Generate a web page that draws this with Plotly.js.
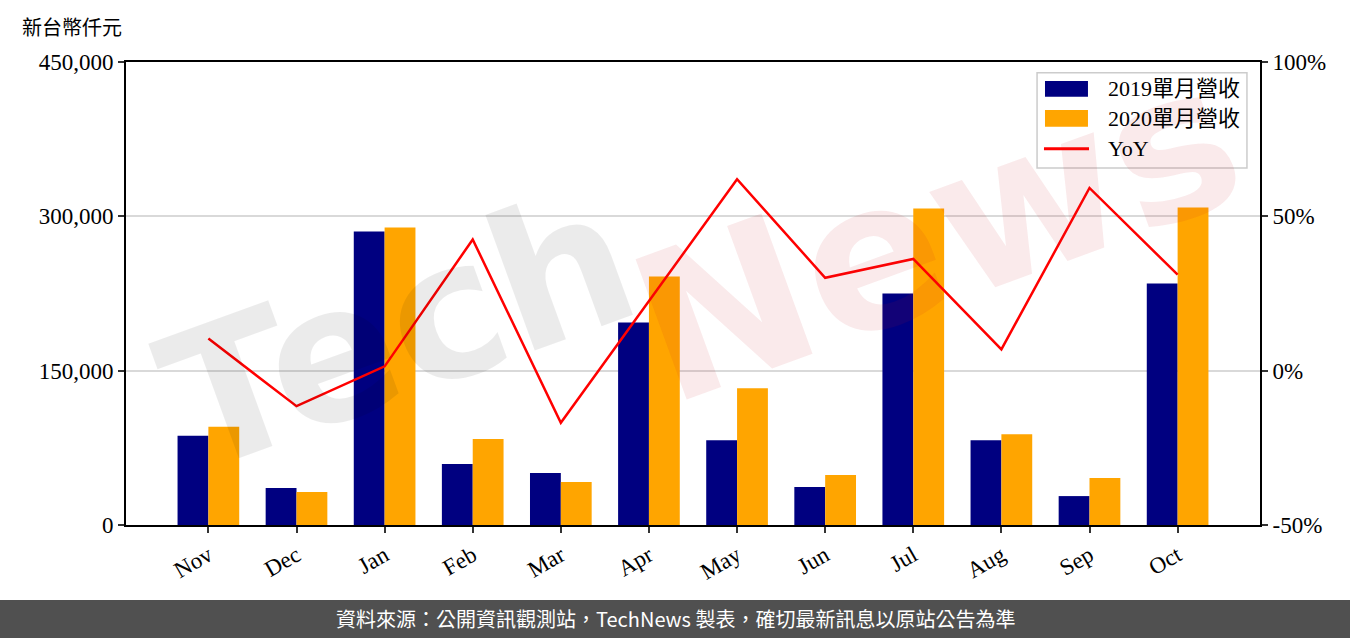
<!DOCTYPE html>
<html>
<head>
<meta charset="utf-8">
<script src="https://cdn.plot.ly/plotly-3.0.1.min.js"></script>
<style>html,body{margin:0;padding:0;background:#fff;}#chart{width:1350px;height:638px;}</style>
</head>
<body>
<div id="chart"></div>
<script>
const months = ['Nov','Dec','Jan','Feb','Mar','Apr','May','Jun','Jul','Aug','Sep','Oct'];
const rev2019 = [86800, 36000, 285200, 59300, 50500, 196900, 82450, 36900, 225000, 82450, 28100, 234700];
const rev2020 = [95600, 32100, 289100, 83600, 41800, 241500, 132900, 48500, 307500, 88300, 45600, 308500];
const yoy = [10.4, -11.5, 1.4, 42.5, -16.9, 22.7, 62.0, 30.1, 36.2, 6.9, 59.2, 31.1];
const leftTicks = [0, 150000, 300000, 450000];
const leftTickText = ['0', '150,000', '300,000', '450,000'];
const rightTicks = [-50, 0, 50, 100];
const rightTickText = ['-50%', '0%', '50%', '100%'];
const seriesNames = ['2019單月營收', '2020單月營收', 'YoY'];
const colors = ['#000080', '#FFA500', '#FF0000'];

const serif = '"Liberation Serif", "Noto Sans CJK TC", serif';
const sans = '"Noto Sans CJK TC", "Noto Sans", sans-serif';

const traces = [
  {type:'bar', name:seriesNames[0], x:months, y:rev2019, marker:{color:colors[0]}, yaxis:'y'},
  {type:'bar', name:seriesNames[1], x:months, y:rev2020, marker:{color:colors[1]}, yaxis:'y'},
  {type:'scatter', mode:'lines', name:seriesNames[2], x:months, y:yoy, yaxis:'y2',
   line:{color:colors[2], width:2.5}}
];

// custom legend (paper coordinates)
const legShapes = [
  {type:'rect', xref:'paper', yref:'paper', x0:0.8034, x1:0.9885, y0:0.7711, y1:0.9769,
   fillcolor:'rgba(255,255,255,0.8)', line:{color:'#cccccc', width:1.5}, layer:'above'},
  {type:'rect', xref:'paper', yref:'paper', x0:0.8104, x1:0.8483, y0:0.9251, y1:0.959,
   fillcolor:colors[0], line:{width:0}, layer:'above'},
  {type:'rect', xref:'paper', yref:'paper', x0:0.8104, x1:0.8483, y0:0.8603, y1:0.8963,
   fillcolor:colors[1], line:{width:0}, layer:'above'},
  {type:'line', xref:'paper', yref:'paper', x0:0.8095, x1:0.8492, y0:0.8127, y1:0.8127,
   line:{color:colors[2], width:3}, layer:'above'}
];
const legY = [0.9417, 0.879, 0.8121];
const legAnn = seriesNames.map((n, i) => ({
  xref:'paper', yref:'paper', x:0.8642, y:legY[i], xanchor:'left', yanchor:'middle',
  text:n, showarrow:false, font:{family:serif, size:22, color:'#000'}
}));

const layout = {
  width:1350, height:638,
  margin:{l:126, r:90, t:62, b:113},
  paper_bgcolor:'#ffffff', plot_bgcolor:'#ffffff',
  font:{family:serif, size:22, color:'#000'},
  barmode:'group', bargap:0.3, bargroupgap:0,
  showlegend:false,
  xaxis:{type:'category', range:[-0.935, 11.935], tickangle:-30,
    ticks:'outside', ticklen:6, tickwidth:2, tickcolor:'#333',
    showline:true, linecolor:'#000', linewidth:2, mirror:true,
    showgrid:false, tickfont:{family:serif, size:23, color:'#000'}},
  yaxis:{range:[0,450000], tickvals:leftTicks, ticktext:leftTickText, tickmode:'array',
    ticks:'outside', ticklen:6, tickwidth:2, tickcolor:'#333',
    showline:true, linecolor:'#000', linewidth:2, mirror:true,
    showgrid:true, gridcolor:'#d9d9d9', gridwidth:2, zeroline:false,
    tickfont:{family:serif, size:23, color:'#000'}},
  yaxis2:{overlaying:'y', side:'right', range:[-50,100], tickvals:rightTicks, ticktext:rightTickText,
    tickmode:'array', ticks:'outside', ticklen:6, tickwidth:2, tickcolor:'#333',
    showline:true, linecolor:'#000', linewidth:2, showgrid:false, zeroline:false,
    tickfont:{family:serif, size:23, color:'#000'}},
  shapes:[
    {type:'rect', xref:'paper', yref:'paper', x0:-0.12, x1:1.09, y0:-0.162, y1:-0.26,
     fillcolor:'#505050', line:{width:0}, layer:'above'}
  ].concat(legShapes),
  annotations:[
    {xref:'paper', yref:'paper', x:0.24, y:0.42, text:'<b>Tech</b>',
     showarrow:false, textangle:-20, font:{family:'"DejaVu Sans", sans-serif', size:190, color:'rgba(0,0,0,0.08)'},
     xanchor:'center', yanchor:'middle'},
    {xref:'paper', yref:'paper', x:0.715, y:0.63, text:'<b>News</b>',
     showarrow:false, textangle:-20, font:{family:'"DejaVu Sans", sans-serif', size:205, color:'rgba(195,25,35,0.09)'},
     xanchor:'center', yanchor:'middle'},
    {xref:'paper', yref:'paper', x:-0.0935, y:1.0756, xanchor:'left', yanchor:'middle',
     text:'新台幣仟元', showarrow:false, font:{family:sans, size:20, color:'#000'}},
    {xref:'paper', yref:'paper', x:0.485, y:-0.203, xanchor:'center', yanchor:'middle',
     text:'資料來源：公開資訊觀測站，TechNews 製表，確切最新訊息以原站公告為準', showarrow:false,
     font:{family:sans, size:20, color:'#ffffff'}}
  ].concat(legAnn)
};

Plotly.newPlot('chart', traces, layout, {displayModeBar:false, staticPlot:true});
</script>
</body>
</html>
